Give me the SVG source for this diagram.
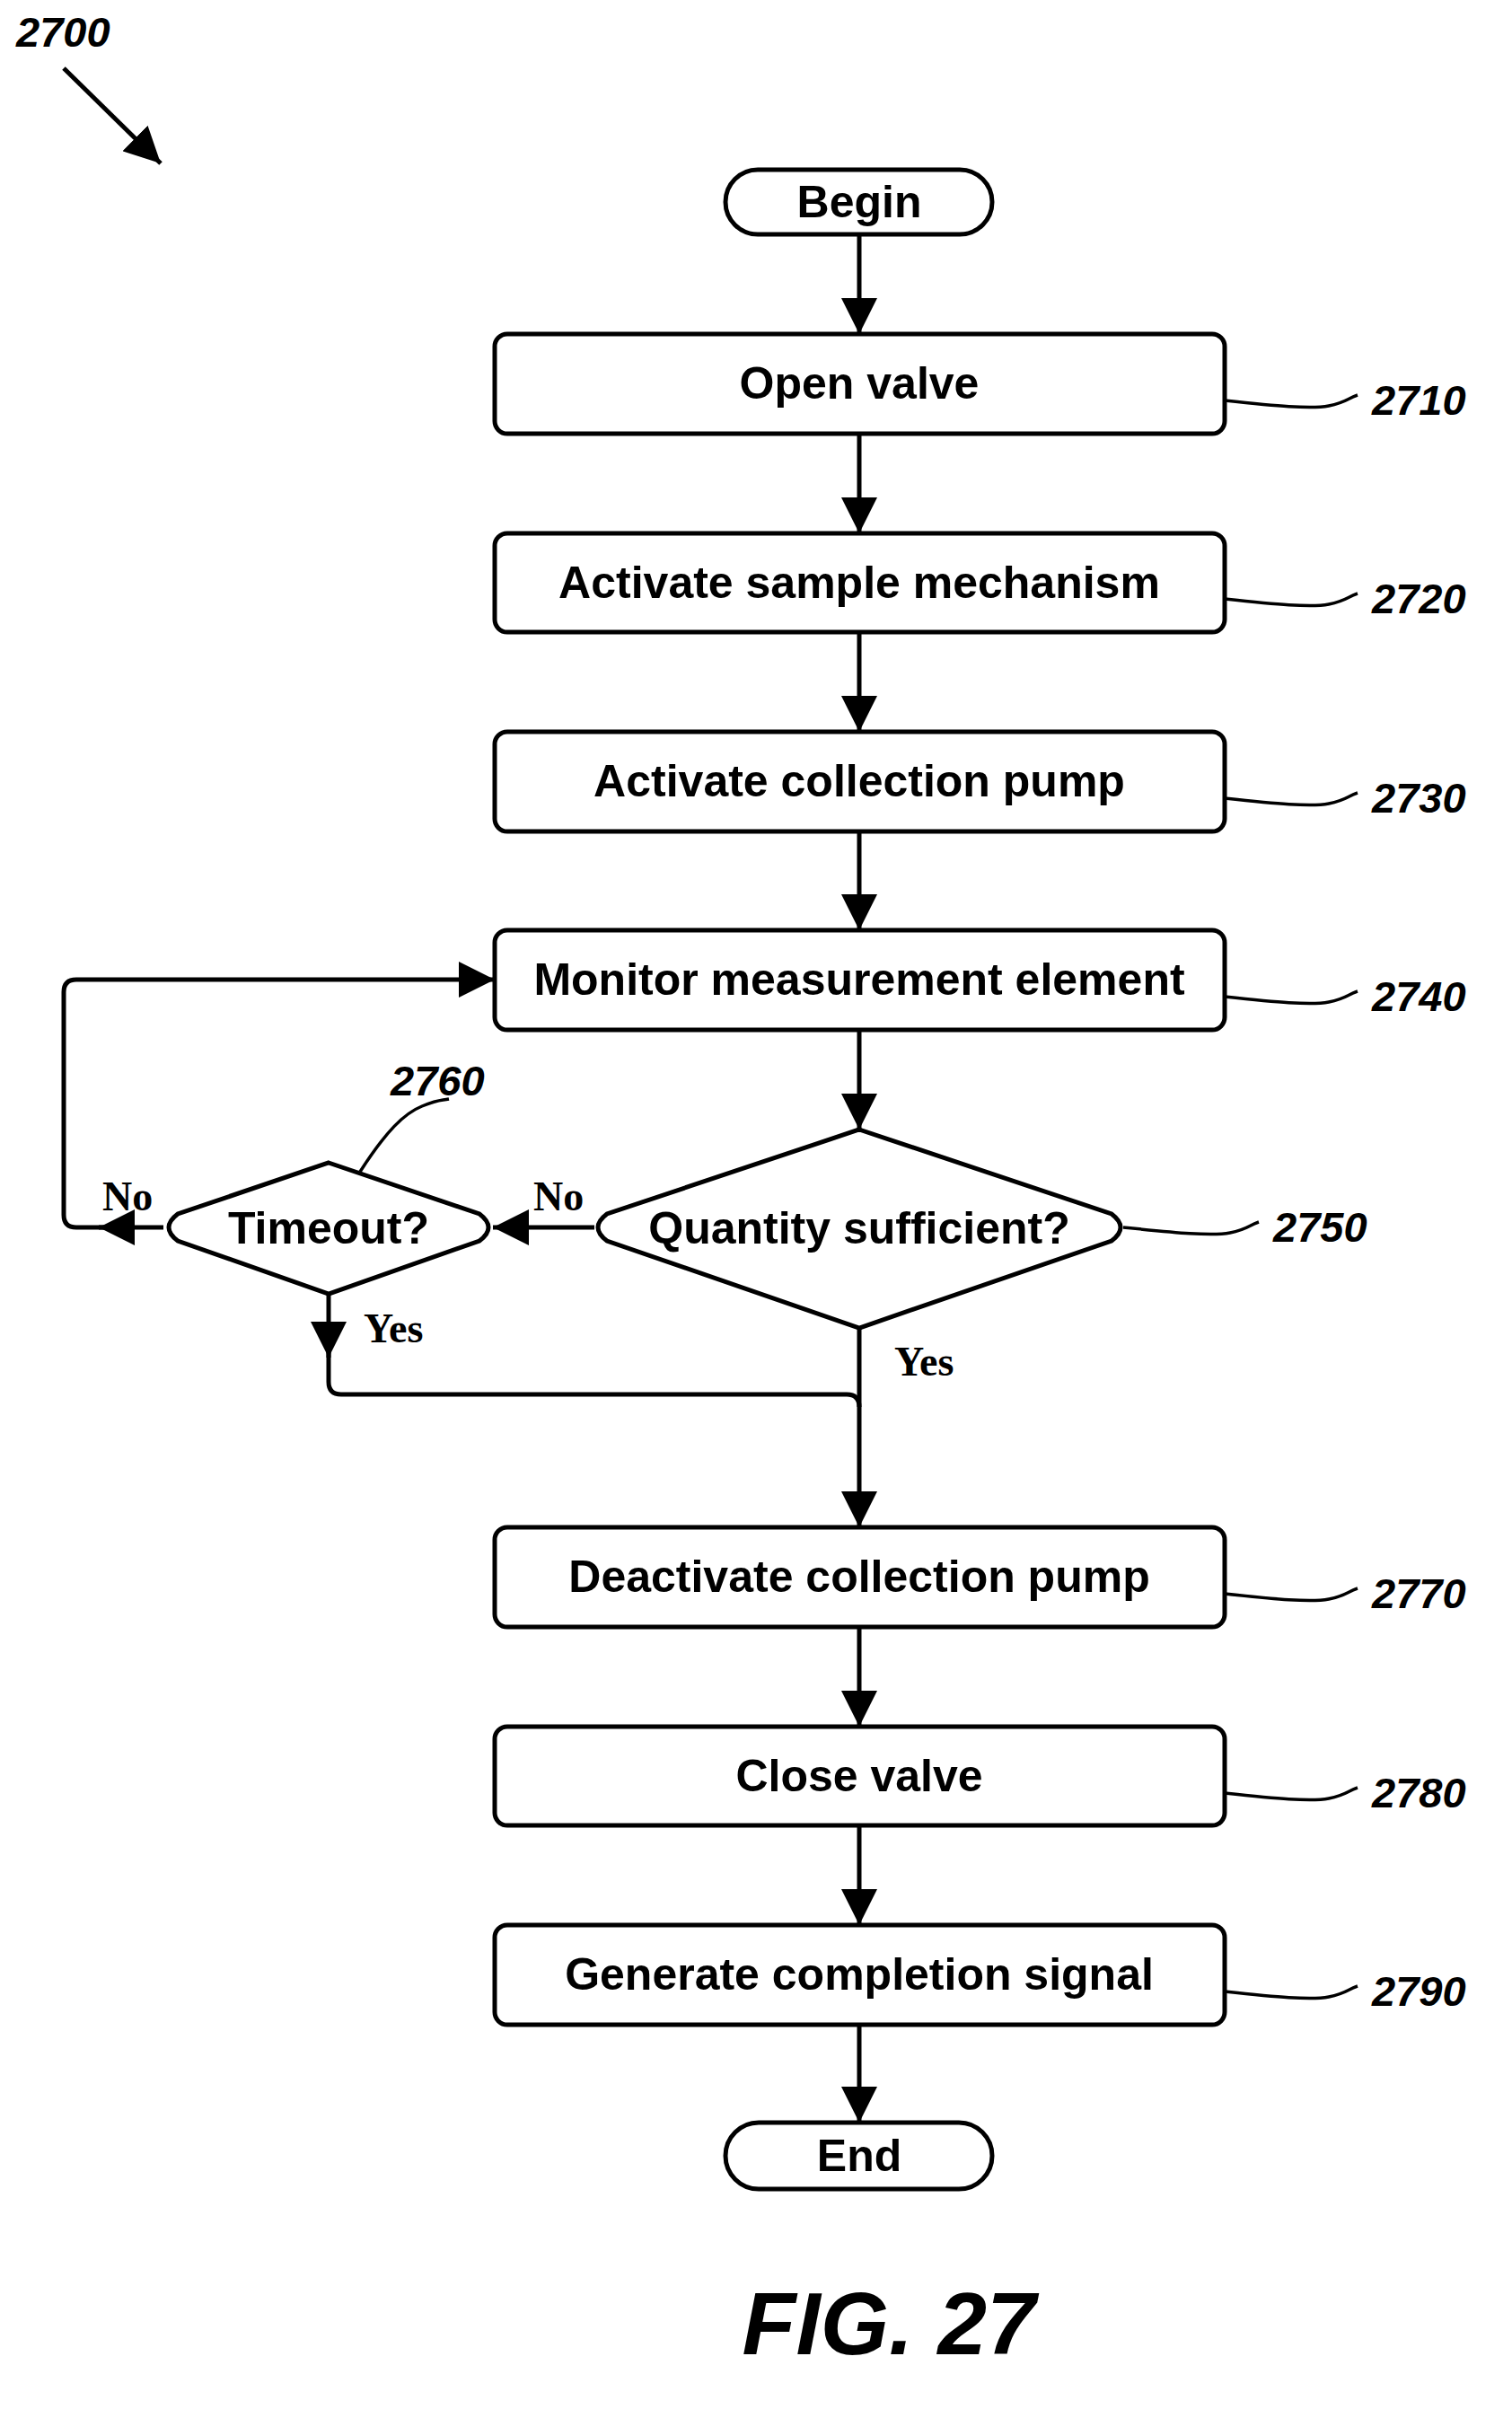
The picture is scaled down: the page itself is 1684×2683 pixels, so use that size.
<svg xmlns="http://www.w3.org/2000/svg" width="1684" height="2683" viewBox="0 0 1684 2683">
<style>
.b{fill:#fff;stroke:#000;stroke-width:5}
.t{font-family:"Liberation Sans",Arial,sans-serif;font-weight:bold;font-size:50px;text-anchor:middle}
.r{font-family:"Liberation Sans",Arial,sans-serif;font-weight:bold;font-style:italic;font-size:47px}
.y{font-family:"Liberation Serif","Times New Roman",serif;font-weight:bold;font-size:46px}
.l{fill:none;stroke:#000;stroke-width:5}
.w{fill:none;stroke:#000;stroke-width:3.5}
</style>
<defs>
<marker id="m" viewBox="0 0 10 10" refX="10" refY="5" markerWidth="40" markerHeight="40" markerUnits="userSpaceOnUse" orient="auto"><path d="M0,0L10,5L0,10z"/></marker></defs>
<text class="r" x="18" y="52">2700</text>
<line class="l" x1="71" y1="76" x2="179" y2="182" marker-end="url(#m)"/>
<g id="connectors">
<line class="l" x1="957" y1="261" x2="957" y2="372" marker-end="url(#m)"/>
<line class="l" x1="957" y1="483" x2="957" y2="594" marker-end="url(#m)"/>
<line class="l" x1="957" y1="704" x2="957" y2="815" marker-end="url(#m)"/>
<line class="l" x1="957" y1="926" x2="957" y2="1036" marker-end="url(#m)"/>
<line class="l" x1="957" y1="1147" x2="957" y2="1258" marker-end="url(#m)"/>
<line class="l" x1="957" y1="1479" x2="957" y2="1701" marker-end="url(#m)"/>
<line class="l" x1="662" y1="1367" x2="549" y2="1367" marker-end="url(#m)"/>
<path class="l" d="M182,1367H85Q71,1367 71,1353V1105Q71,1091 85,1091H551" marker-end="url(#m)"/>
<line class="l" x1="140" y1="1367" x2="110" y2="1367" marker-end="url(#m)"/>
<path class="l" d="M366,1441V1512" marker-end="url(#m)"/>
<path class="l" d="M366,1505V1539Q366,1553 380,1553H943Q957,1553 957,1567"/>
<line class="l" x1="957" y1="1812" x2="957" y2="1923" marker-end="url(#m)"/>
<line class="l" x1="957" y1="2033" x2="957" y2="2144" marker-end="url(#m)"/>
<line class="l" x1="957" y1="2255" x2="957" y2="2364" marker-end="url(#m)"/>
</g>
<g id="begin"><rect class="b" x="808" y="189" width="297" height="72" rx="36"/><text class="t" x="957" y="242">Begin</text></g>
<g id="n2710"><rect class="b" x="551" y="372" width="813" height="111" rx="14"/><text class="t" x="957" y="444">Open valve</text></g>
<g id="n2720"><rect class="b" x="551" y="594" width="813" height="110" rx="14"/><text class="t" x="957" y="666">Activate sample mechanism</text></g>
<g id="n2730"><rect class="b" x="551" y="815" width="813" height="111" rx="14"/><text class="t" x="957" y="887">Activate collection pump</text></g>
<g id="n2740"><rect class="b" x="551" y="1036" width="813" height="111" rx="14"/><text class="t" x="957" y="1108">Monitor measurement element</text></g>
<g id="n2750"><path class="b" d="M957,1258L1238,1352Q1258,1367 1238,1382L957,1479L676,1382Q656,1367 676,1352Z"/><text class="t" x="957" y="1385">Quantity sufficient?</text></g>
<g id="n2760"><path class="b" d="M366,1295L534,1352Q554,1367 534,1382L366,1441L198,1382Q178,1367 198,1352Z"/><text class="t" x="366" y="1385">Timeout?</text></g>
<g id="n2770"><rect class="b" x="551" y="1701" width="813" height="111" rx="14"/><text class="t" x="957" y="1773">Deactivate collection pump</text></g>
<g id="n2780"><rect class="b" x="551" y="1923" width="813" height="110" rx="14"/><text class="t" x="957" y="1995">Close valve</text></g>
<g id="n2790"><rect class="b" x="551" y="2144" width="813" height="111" rx="14"/><text class="t" x="957" y="2216">Generate completion signal</text></g>
<g id="end"><rect class="b" x="808" y="2364" width="297" height="74" rx="37"/><text class="t" x="957" y="2418">End</text></g>
<text class="y" x="114" y="1348">No</text>
<text class="y" x="594" y="1348">No</text>
<text class="y" x="405" y="1495">Yes</text>
<text class="y" x="996" y="1532">Yes</text>
<g id="refs">
<path class="w" d="M1364,446C1420,452 1460,456 1480,452S1500,444 1512,440"/><text class="r" x="1528" y="462">2710</text>
<path class="w" d="M1364,667C1420,673 1460,677 1480,673S1500,665 1512,661"/><text class="r" x="1528" y="683">2720</text>
<path class="w" d="M1364,889C1420,895 1460,899 1480,895S1500,887 1512,883"/><text class="r" x="1528" y="905">2730</text>
<path class="w" d="M1364,1110C1420,1116 1460,1120 1480,1116S1500,1108 1512,1104"/><text class="r" x="1528" y="1126">2740</text>
<path class="w" d="M1251,1367C1310,1373 1350,1377 1370,1373S1390,1365 1402,1361"/><text class="r" x="1418" y="1383">2750</text>
<path class="w" d="M401,1305C430,1260 450,1240 470,1232S490,1226 500,1224"/><text class="r" x="435" y="1220">2760</text>
<path class="w" d="M1364,1775C1420,1781 1460,1785 1480,1781S1500,1773 1512,1769"/><text class="r" x="1528" y="1791">2770</text>
<path class="w" d="M1364,1997C1420,2003 1460,2007 1480,2003S1500,1995 1512,1991"/><text class="r" x="1528" y="2013">2780</text>
<path class="w" d="M1364,2218C1420,2224 1460,2228 1480,2224S1500,2216 1512,2212"/><text class="r" x="1528" y="2234">2790</text>
</g>
<text x="990" y="2622" style="font-family:'Liberation Sans',Arial,sans-serif;font-weight:bold;font-style:italic;font-size:98px;text-anchor:middle">FIG. 27</text>
</svg>
